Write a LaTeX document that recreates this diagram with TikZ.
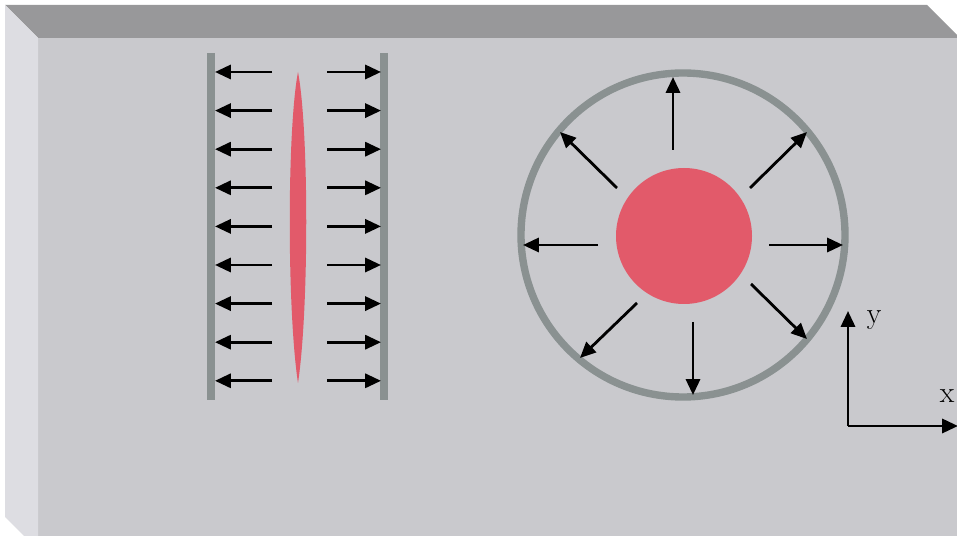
\documentclass[tikz,border=0pt]{standalone}
\usetikzlibrary{arrows.meta}
\definecolor{SlabTop}{RGB}{152,152,154}
\definecolor{SlabFront}{RGB}{201,201,205}
\definecolor{SlabSide}{RGB}{221,221,226}
\definecolor{PlateGray}{RGB}{138,145,145}
\definecolor{CrackRed}{RGB}{226,90,106}

\begin{document}
\begin{tikzpicture}[x=0.02cm, y=-0.02cm,
    force/.style={line width=1.6pt, -{Triangle[length=9pt, width=8pt]}},
    plate/.style={PlateGray, line width=4.5pt},
    axislabel/.style={font=\fontsize{17}{19}\selectfont}]
    \useasboundingbox (0,0) rectangle (957,536);
    \clip (0,0) rectangle (957,536);
    \fill[white] (0,0) rectangle (957,536);

    % Slab faces
    \fill[SlabFront] (38,38) rectangle (970,550);
    \fill[SlabTop] (5,5) -- (927,5) -- (960,38) -- (38,38) -- cycle;
    \fill[SlabSide] (5,5) -- (38,38) -- (38,550) -- (5,517) -- cycle;

    % Flat crack between two plates
    \draw[plate] (211,53) -- (211,400);
    \draw[plate] (384,53) -- (384,400);
    \fill[CrackRed] (298,72) .. controls (309,130) and (309,310) .. (298,383)
        .. controls (287,310) and (287,130) .. (298,72) -- cycle;
    \foreach \i in {0,...,8} {
        \draw[force] (272,72+38.6*\i) -- (215,72+38.6*\i);
        \draw[force] (327,72+38.6*\i) -- (381,72+38.6*\i);
    }

    % Penny-shaped crack in ring
    \draw[PlateGray, line width=4.2pt] (683,235) circle [radius=162];
    \fill[CrackRed] (684,236) circle [radius=68];
    \foreach \sx/\sy/\ex/\ey in {769/245/843/245, 598/245/523/245,
        673/150/673/77, 693/322/693/395, 750/188/807/132,
        617/188/560/132, 637/303/580/358, 751/284/807/339}
        \draw[force] (\sx,\sy) -- (\ex,\ey);

    % Axes
    \coordinate (O) at (848,426);
    \draw[force] (O) -- (848,311);
    \draw[force] (O) -- (958,426);
    \node[axislabel] (ylab) at (874,320) {y};
    \node[axislabel] (xlab) at (947,396) {x};
\end{tikzpicture}
\end{document}
